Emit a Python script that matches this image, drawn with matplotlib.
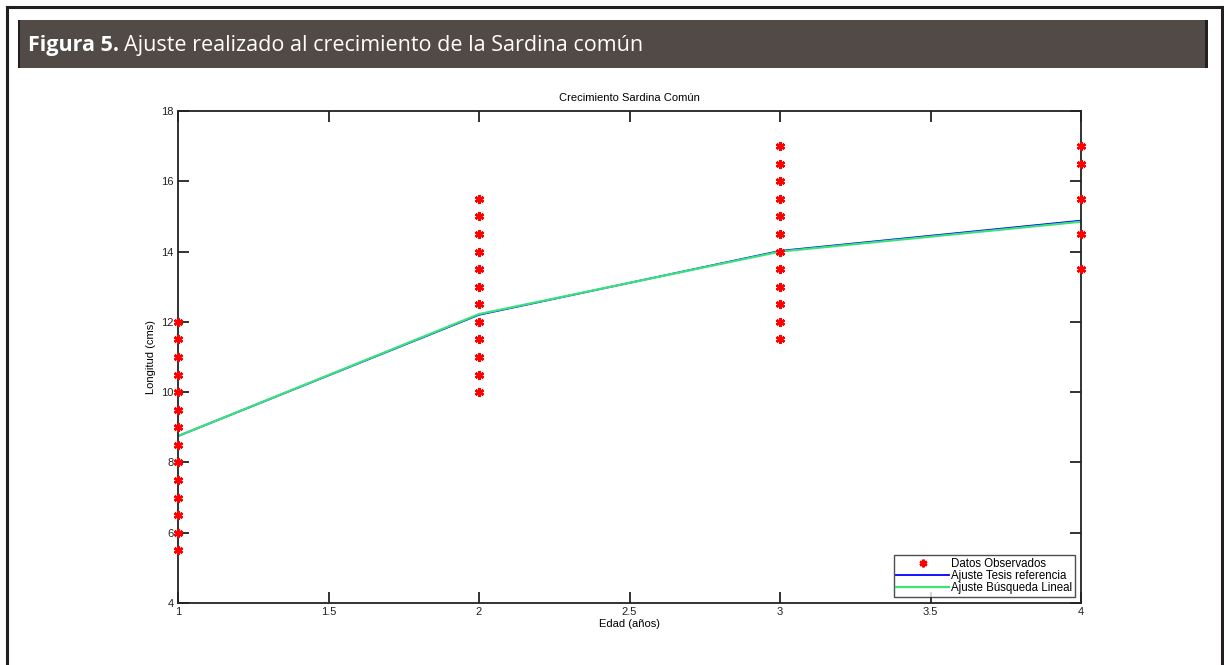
import matplotlib
matplotlib.use("Agg")
import matplotlib.pyplot as plt
from matplotlib.patches import Rectangle
from matplotlib.lines import Line2D

# Data
edad_obs_1 = [1] * 14
long_obs_1 = [5.5, 6, 6.5, 7, 7.5, 8, 8.5, 9, 9.5, 10, 10.5, 11, 11.5, 12]
edad_obs_2 = [2] * 12
long_obs_2 = [10, 10.5, 11, 11.5, 12, 12.5, 13, 13.5, 14, 14.5, 15, 15.5]
edad_obs_3 = [3] * 12
long_obs_3 = [11.5, 12, 12.5, 13, 13.5, 14, 14.5, 15, 15.5, 16, 16.5, 17]
edad_obs_4 = [4] * 5
long_obs_4 = [13.5, 14.5, 15.5, 16.5, 17]

edad_fit = [1, 2, 3, 4]
ajuste_tesis = [8.75, 12.2, 14.02, 14.88]
ajuste_busqueda = [8.75, 12.22, 14.0, 14.85]

xticks = [1, 1.5, 2, 2.5, 3, 3.5, 4]
yticks = [4, 6, 8, 10, 12, 14, 16, 18]

W, H = 1224, 665
fig = plt.figure(figsize=(W / 100, H / 100), dpi=100)

# outer frame lines (top, left, right)
fig.add_artist(Line2D([7 / W, 1222 / W], [1 - 7 / H, 1 - 7 / H], color="#231f20", lw=2.2))
fig.add_artist(Line2D([7 / W, 7 / W], [0, 1 - 7 / H], color="#231f20", lw=2.2))
fig.add_artist(Line2D([1222 / W, 1222 / W], [0, 1 - 7 / H], color="#231f20", lw=2.2))

# header bar
fig.add_artist(Rectangle((18 / W, 1 - 68 / H), (1208 - 18) / W, (68 - 20) / H,
                         transform=fig.transFigure, facecolor="#524a46",
                         edgecolor="none"))
fig.add_artist(Rectangle((1205 / W, 1 - 68 / H), 3 / W, (68 - 20) / H,
                         transform=fig.transFigure, facecolor="#231f20", edgecolor="none"))
fig.add_artist(Rectangle((18 / W, 1 - 68 / H), 2 / W, (68 - 20) / H,
                         transform=fig.transFigure, facecolor="#231f20", edgecolor="none"))
t1 = fig.text(28 / W, 1 - 45 / H, "Figura 5.", color="white", fontsize=15.5,
              fontweight="bold", family="Open Sans", va="center", ha="left")
fig.canvas.draw()
bb = t1.get_window_extent()
fig.text((bb.x1 + 5) / W, 1 - 45 / H, "Ajuste realizado al crecimiento de la Sardina común",
         color="white", fontsize=15.5, family="Open Sans", va="center", ha="left")

# axes
ax = fig.add_axes([178 / W, 1 - 603 / H, (1081 - 178) / W, (603 - 111) / H])
star = (6, 2, 0)
mk = dict(marker=star, color="red", markersize=6.5, markeredgewidth=1.8, linestyle="none")
ax.plot(edad_obs_1, long_obs_1, label="Datos Observados", **mk, clip_on=False, zorder=5)
ax.plot(edad_obs_2, long_obs_2, **mk, clip_on=False, zorder=5)
ax.plot(edad_obs_3, long_obs_3, **mk, clip_on=False, zorder=5)
ax.plot(edad_obs_4, long_obs_4, **mk, clip_on=False, zorder=5)
ax.plot(edad_fit, ajuste_tesis, color="blue", lw=1.3, label="Ajuste Tesis referencia")
ax.plot(edad_fit, ajuste_busqueda, color="#3ae27a", lw=1.6,
        label="Ajuste Búsqueda Lineal")

ax.set_xlim(1, 4)
ax.set_ylim(4, 18)
ax.set_xticks(xticks)
ax.set_xticklabels(["1", "1.5", "2", "2.5", "3", "3.5", "4"])
ax.set_yticks(yticks)
ax.tick_params(direction="in", length=8, width=1.3, top=True, right=True,
               labelsize=8, pad=3, colors="#222222")
for s in ax.spines.values():
    s.set_linewidth(1.3)
    s.set_color("#222222")
for lab in ax.get_xticklabels() + ax.get_yticklabels():
    lab.set_family("Liberation Sans")

ax.set_title("Crecimiento Sardina Común", fontsize=8, family="Liberation Sans", pad=7)
ax.set_xlabel("Edad (años)", fontsize=8, family="Liberation Sans", labelpad=1)
ax.set_ylabel("Longitud (cms)", fontsize=8, family="Liberation Sans", labelpad=4)

leg = ax.legend(loc="lower right", prop={"family": "Liberation Sans", "size": 8.3},
                frameon=True, fancybox=False, edgecolor="#222222", borderpad=0.25,
                labelspacing=0.0, handlelength=4.6, handletextpad=0.1,
                borderaxespad=0.55, markerscale=0.85)
leg.get_frame().set_linewidth(1.0)

fig.savefig("out.png", dpi=100)
